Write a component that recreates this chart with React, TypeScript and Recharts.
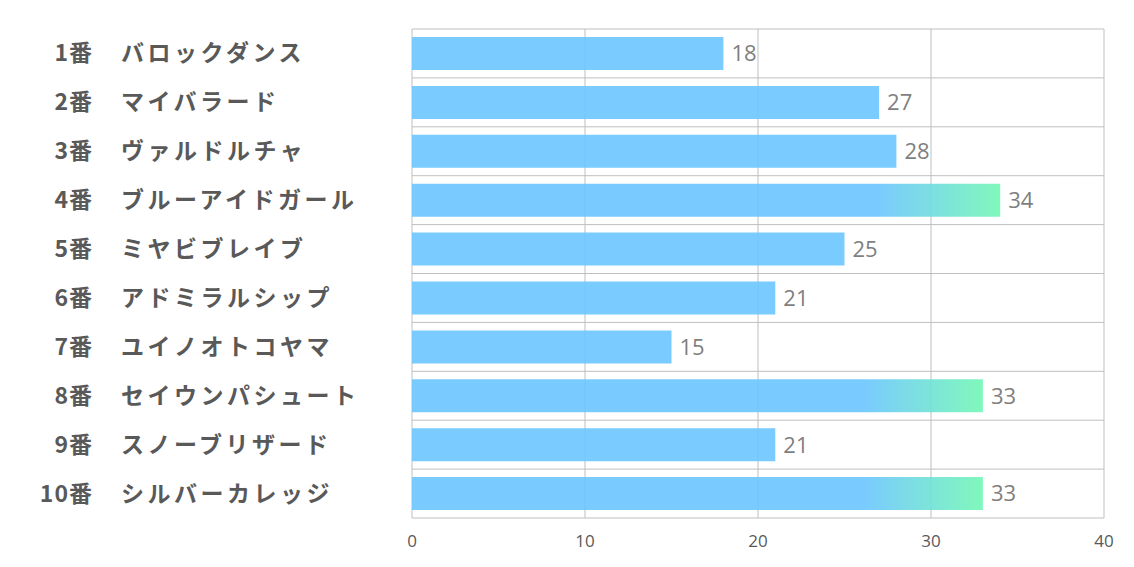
import { BarChart, Bar, XAxis, YAxis, CartesianGrid, Cell, LabelList } from 'recharts';

const horseNumbers = ['1番', '2番', '3番', '4番', '5番', '6番', '7番', '8番', '9番', '10番'];
const horseNames = [
  'バロックダンス',
  'マイバラード',
  'ヴァルドルチャ',
  'ブルーアイドガール',
  'ミヤビブレイブ',
  'アドミラルシップ',
  'ユイノオトコヤマ',
  'セイウンパシュート',
  'スノーブリザード',
  'シルバーカレッジ',
];
const points = [18, 27, 28, 34, 25, 21, 15, 33, 21, 33];
const xTicks = [0, 10, 20, 30, 40];

const chartData = horseNames.map((name, i) => ({
  key: String(i),
  num: horseNumbers[i],
  name,
  value: points[i],
}));

const labelFont = '"Noto Sans CJK JP", "Noto Sans", sans-serif';

function HorseTick(props: any) {
  const { y, payload } = props;
  const row = chartData[Number(payload.value)];
  return (
    <g>
      <text x={93} y={y} dy={8} textAnchor="end" fill="#595959" fontSize={23} fontWeight={700} fontFamily={labelFont} letterSpacing={1}>
        {row.num}
      </text>
      <text x={121} y={y} dy={8} textAnchor="start" fill="#595959" fontSize={23} fontWeight={700} fontFamily={labelFont} letterSpacing={3.5}>
        {row.name}
      </text>
    </g>
  );
}

export default function App() {
  return (
    <div style={{ position: 'absolute', left: 0, top: 0, background: '#fff' }}>
      <BarChart
        width={1134}
        height={567}
        data={chartData}
        layout="vertical"
        margin={{ top: 29, right: 30, left: 0, bottom: 0 }}
        barSize={33}
      >
        <defs>
          <linearGradient id="topGrad" x1="0" y1="0" x2="1" y2="0">
            <stop offset="0" stopColor="#6bc5ff" />
            <stop offset="0.79" stopColor="#6bc5ff" />
            <stop offset="1" stopColor="#72f7b5" />
          </linearGradient>
        </defs>
        <CartesianGrid
          stroke="#bfbfbf"
          strokeWidth={1}
          horizontalCoordinatesGenerator={({ offset }: any) =>
            chartData.concat([chartData[0]]).map((_, i) => offset.top + (i * offset.height) / chartData.length)
          }
        />
        <XAxis
          type="number"
          domain={[0, 40]}
          ticks={xTicks}
          axisLine={false}
          tickLine={false}
          tickMargin={11}
          height={49}
          tick={{ fill: '#595959', fontSize: 17, fontFamily: '"Open Sans", sans-serif' }}
        />
        <YAxis type="category" dataKey="key" width={412} axisLine={false} tickLine={false} tick={<HorseTick />} />
        <Bar dataKey="value" isAnimationActive={false} fillOpacity={0.9}>
          {chartData.map((d) => (
            <Cell key={d.key} fill={d.value >= 30 ? 'url(#topGrad)' : '#6bc5ff'} />
          ))}
          <LabelList
            dataKey="value"
            position="right"
            offset={8}
            fill="#7f7f7f"
            fontSize={22}
            fontFamily='"Open Sans", sans-serif'
          />
        </Bar>
      </BarChart>
    </div>
  );
}
